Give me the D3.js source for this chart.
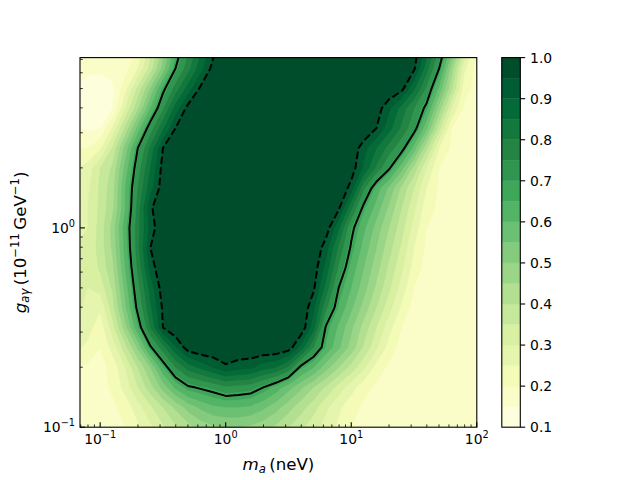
<!DOCTYPE html>
<html><head><meta charset="utf-8">
<script src="https://cdn.jsdelivr.net/npm/d3@7/dist/d3.min.js"></script>
<style>html,body{margin:0;padding:0;background:#fff}svg{display:block}text{font-family:"DejaVu Sans",sans-serif;fill:#000}</style>
</head><body>
<svg id="chart" width="640" height="480"></svg>
<script>
// grid columns: log10(m_a / neV)
const massLog = [-1.2,-1.1,-1.0,-0.9,-0.8,-0.7,-0.6,-0.5,-0.4,-0.3,-0.2,-0.1,0.0,0.1,0.2,0.3,0.4,0.5,0.6,0.7,0.8,0.9,1.0,1.1,1.2,1.3,1.4,1.5,1.6,1.7,1.8,1.9,2.0];
// grid rows (top to bottom): log10(g / 1e-11 GeV^-1)
const couplingLog = [0.9,0.8,0.7,0.6,0.5,0.4,0.3,0.2,0.1,0.0,-0.1,-0.2,-0.3,-0.4,-0.5,-0.6,-0.7,-0.8,-0.9,-1.0];
// exclusion probability
const exclusion = [
 [0.18,0.17,0.17,0.18,0.19,0.2,0.33,0.47,0.63,0.74,0.84,0.93,1,1,1,1,1,1,1,1,1,1,1,1,1,1,1,0.98,0.88,0.75,0.58,0.37,0.2],
 [0.17,0.16,0.16,0.17,0.18,0.25,0.37,0.52,0.68,0.78,0.88,0.97,1,1,1,1,1,1,1,1,1,1,1,1,1,1,1,0.96,0.82,0.68,0.47,0.26,0.18],
 [0.15,0.13,0.12,0.14,0.23,0.36,0.5,0.66,0.77,0.87,0.96,1,1,1,1,1,1,1,1,1,1,1,1,1,1,1,0.97,0.86,0.74,0.59,0.41,0.22,0.18],
 [0.14,0.12,0.12,0.15,0.3,0.44,0.6,0.74,0.87,0.97,1,1,1,1,1,1,1,1,1,1,1,1,1,1,0.98,0.91,0.83,0.75,0.66,0.48,0.3,0.19,0.18],
 [0.16,0.14,0.15,0.26,0.41,0.57,0.72,0.84,0.95,1,1,1,1,1,1,1,1,1,1,1,1,1,1,1,0.95,0.87,0.79,0.71,0.56,0.37,0.2,0.18,0.18],
 [0.2,0.2,0.24,0.36,0.52,0.68,0.81,0.95,1,1,1,1,1,1,1,1,1,1,1,1,1,1,0.99,0.92,0.85,0.78,0.71,0.58,0.41,0.25,0.19,0.18,0.18],
 [0.24,0.27,0.35,0.41,0.57,0.72,0.85,0.97,1,1,1,1,1,1,1,1,1,1,1,1,1,1,0.98,0.89,0.79,0.69,0.57,0.43,0.3,0.2,0.18,0.18,0.18],
 [0.26,0.29,0.36,0.43,0.6,0.75,0.88,0.98,1,1,1,1,1,1,1,1,1,1,1,1,1,1,0.93,0.76,0.63,0.54,0.44,0.35,0.25,0.19,0.18,0.18,0.18],
 [0.27,0.3,0.36,0.44,0.6,0.77,0.94,1,1,1,1,1,1,1,1,1,1,1,1,1,1,0.96,0.81,0.66,0.58,0.49,0.4,0.31,0.22,0.19,0.18,0.18,0.18],
 [0.28,0.3,0.37,0.47,0.63,0.78,0.92,1,1,1,1,1,1,1,1,1,1,1,1,1,0.98,0.86,0.7,0.61,0.53,0.45,0.37,0.28,0.2,0.18,0.18,0.18,0.18],
 [0.3,0.31,0.37,0.46,0.62,0.78,0.95,1,1,1,1,1,1,1,1,1,1,1,1,1,0.92,0.79,0.67,0.58,0.5,0.42,0.34,0.25,0.19,0.18,0.18,0.18,0.18],
 [0.3,0.3,0.36,0.44,0.6,0.76,0.92,1,1,1,1,1,1,1,1,1,1,1,1,0.98,0.88,0.74,0.63,0.55,0.47,0.39,0.31,0.23,0.18,0.18,0.18,0.18,0.18],
 [0.31,0.3,0.32,0.41,0.57,0.73,0.87,0.98,1,1,1,1,1,1,1,1,1,1,1,0.96,0.83,0.68,0.6,0.52,0.44,0.36,0.28,0.2,0.18,0.18,0.18,0.18,0.18],
 [0.31,0.29,0.26,0.38,0.54,0.7,0.84,0.96,1,1,1,1,1,1,1,1,1,1,1,0.91,0.76,0.64,0.56,0.48,0.4,0.32,0.24,0.18,0.18,0.18,0.18,0.18,0.18],
 [0.29,0.27,0.22,0.33,0.48,0.64,0.8,0.95,1,1,1,1,1,1,1,1,1,1,0.99,0.87,0.67,0.59,0.51,0.43,0.35,0.27,0.2,0.18,0.18,0.18,0.18,0.18,0.18],
 [0.26,0.24,0.2,0.27,0.38,0.51,0.67,0.78,0.89,0.98,1,1,1,1,1,1,1,0.98,0.88,0.75,0.64,0.56,0.48,0.39,0.31,0.23,0.18,0.18,0.18,0.18,0.18,0.18,0.18],
 [0.2,0.19,0.18,0.22,0.3,0.4,0.5,0.64,0.75,0.82,0.86,0.9,0.94,0.92,0.91,0.87,0.85,0.79,0.66,0.6,0.52,0.45,0.38,0.31,0.23,0.19,0.18,0.18,0.18,0.18,0.18,0.18,0.18],
 [0.19,0.18,0.18,0.21,0.27,0.35,0.43,0.52,0.61,0.67,0.69,0.71,0.74,0.73,0.72,0.68,0.63,0.57,0.51,0.45,0.39,0.33,0.27,0.22,0.19,0.18,0.18,0.18,0.18,0.18,0.18,0.18,0.18],
 [0.19,0.18,0.18,0.19,0.22,0.28,0.34,0.4,0.46,0.52,0.56,0.59,0.6,0.6,0.59,0.56,0.52,0.47,0.42,0.37,0.31,0.26,0.22,0.19,0.18,0.18,0.18,0.18,0.18,0.18,0.18,0.18,0.18],
 [0.19,0.18,0.18,0.18,0.2,0.24,0.29,0.34,0.39,0.43,0.47,0.49,0.5,0.5,0.49,0.47,0.44,0.4,0.36,0.32,0.28,0.24,0.2,0.19,0.18,0.18,0.18,0.18,0.18,0.18,0.18,0.18,0.18]
];
const levels = [0.1,0.15,0.2,0.25,0.3,0.35,0.4,0.45,0.5,0.55,0.6,0.65,0.7,0.75,0.8,0.85,0.9,0.95,1.0];
const solidLevel = [0.68];
const dashedLevel = [0.95];
const cbarTicks = [0.1,0.2,0.3,0.4,0.5,0.6,0.7,0.8,0.9,1.0];
const cbarLabels = ["0.1","0.2","0.3","0.4","0.5","0.6","0.7","0.8","0.9","1.0"];
const xMajor = [0.1,1,10,100];
const xMajorExp = ["\u22121","0","1","2"];
const xMinor = [0.07,0.08,0.09,0.2,0.3,0.4,0.5,0.6,0.7,0.8,0.9,2,3,4,5,6,7,8,9,20,30,40,50,60,70,80,90];
const yMajor = [0.1,1];
const yMajorExp = ["\u22121","0"];
const yMinor = [0.2,0.3,0.4,0.5,0.6,0.7,0.8,0.9,2,3,4,5,6,7];
const ylgn = ["#ffffe5","#f7fcb9","#d9f0a3","#addd8e","#78c679","#41ab5d","#238443","#006837","#004529"];

const svg = d3.select("#chart");
const ax = {l:80, r:476.8, t:57.6, b:427.2};
const x = d3.scaleLog().domain([0.0691,100]).range([ax.l, ax.r]);
const y = d3.scaleLog().domain([0.1,7.15]).range([ax.b, ax.t]);
const cmap = d3.scaleLinear().domain(ylgn.map((c,i)=>i/(ylgn.length-1))).range(ylgn).interpolate(d3.interpolateRgb);
const nBands = levels.length-1;
const bandColor = i => cmap((i+0.5)/nBands);

const nx = massLog.length, ny = couplingLog.length;
const values = exclusion.flat();
const dxl = massLog[1]-massLog[0], dyl = couplingLog[1]-couplingLog[0];
const proj = d3.geoTransform({point(gx, gy){
  this.stream.point(x(Math.pow(10, massLog[0]+(gx-0.5)*dxl)), y(Math.pow(10, couplingLog[0]+(gy-0.5)*dyl)));
}});
const path = d3.geoPath(proj);

svg.append("clipPath").attr("id","clip").append("rect")
  .attr("x",ax.l).attr("y",ax.t).attr("width",ax.r-ax.l).attr("height",ax.b-ax.t);
const plot = svg.append("g").attr("clip-path","url(#clip)");
plot.append("rect").attr("x",ax.l).attr("y",ax.t).attr("width",ax.r-ax.l).attr("height",ax.b-ax.t).attr("fill",bandColor(0));

const fills = d3.contours().size([nx,ny]).thresholds(levels.slice(0,-1))(values);
plot.selectAll("path.band").data(fills).join("path").attr("class","band")
  .attr("d", path).attr("fill",(d,i)=>bandColor(i)).attr("stroke",(d,i)=>bandColor(i)).attr("stroke-width",0.3);

const solid = d3.contours().size([nx,ny]).thresholds(solidLevel)(values);
plot.selectAll("path.solid").data(solid).join("path").attr("class","solid")
  .attr("d",path).attr("fill","none").attr("stroke","#000").attr("stroke-width",2).attr("stroke-linejoin","round");
const dashed = d3.contours().size([nx,ny]).thresholds(dashedLevel)(values);
plot.selectAll("path.dashed").data(dashed).join("path").attr("class","dashed")
  .attr("d",path).attr("fill","none").attr("stroke","#000").attr("stroke-width",2).attr("stroke-dasharray","7.4,3.2");

// frame
svg.append("rect").attr("x",ax.l).attr("y",ax.t).attr("width",ax.r-ax.l).attr("height",ax.b-ax.t)
  .attr("fill","none").attr("stroke","#000").attr("stroke-width",1.1);

function mathText(sel, parts, size){
  let cur = 0;
  parts.forEach(p=>{
    const off = p.sup ? -0.42*size : (p.sub ? 0.2*size : 0);
    const ts = sel.append("tspan").text(p.t).attr("dy", off-cur).attr("font-size", (p.sup||p.sub)? 0.7*size : size);
    if (p.it) ts.attr("font-style","italic");
    cur = off;
  });
}

const fs = 13.9;
// x ticks (inward)
const gx = svg.append("g");
xMinor.forEach(v=>{ const px=x(v); gx.append("line").attr("x1",px).attr("x2",px).attr("y1",ax.b).attr("y2",ax.b-2.8).attr("stroke","#000").attr("stroke-width",0.8); });
xMajor.forEach((v,i)=>{
  const px=x(v);
  gx.append("line").attr("x1",px).attr("x2",px).attr("y1",ax.b).attr("y2",ax.b-4.9).attr("stroke","#000").attr("stroke-width",1.1);
  const t = gx.append("text").attr("x",px).attr("y",444).attr("text-anchor","middle").attr("font-size",fs);
  mathText(t,[{t:"10"},{t:xMajorExp[i],sup:true}],fs);
});
// y ticks (inward)
const gy = svg.append("g");
yMinor.forEach(v=>{ const py=y(v); gy.append("line").attr("x1",ax.l).attr("x2",ax.l+2.8).attr("y1",py).attr("y2",py).attr("stroke","#000").attr("stroke-width",0.8); });
yMajor.forEach((v,i)=>{
  const py=y(v);
  gy.append("line").attr("x1",ax.l).attr("x2",ax.l+4.9).attr("y1",py).attr("y2",py).attr("stroke","#000").attr("stroke-width",1.1);
  const t = gy.append("text").attr("x",75).attr("y",py+5).attr("text-anchor","end").attr("font-size",fs);
  mathText(t,[{t:"10"},{t:yMajorExp[i],sup:true}],fs);
});

// axis labels
const ls = 16.67;
const xl = svg.append("text").attr("x",(ax.l+ax.r)/2).attr("y",470).attr("text-anchor","middle").attr("font-size",ls);
mathText(xl,[{t:"m",it:true},{t:"a",it:true,sub:true},{t:"\u2009(neV)"}],ls);
const yl = svg.append("text").attr("transform",`translate(26,${(ax.t+ax.b)/2}) rotate(-90)`).attr("text-anchor","middle").attr("font-size",ls);
mathText(yl,[{t:"g",it:true},{t:"a\u03b3",it:true,sub:true},{t:"\u2009(10"},{t:"\u221211",sup:true},{t:"\u2009GeV"},{t:"\u22121",sup:true},{t:")"}],ls);

// colorbar
const cb = {l:501.8, r:520.3};
const cy = d3.scaleLinear().domain([levels[0], levels[levels.length-1]]).range([ax.b, ax.t]);
const gc = svg.append("g");
for (let i=0;i<nBands;i++){
  gc.append("rect").attr("x",cb.l).attr("width",cb.r-cb.l).attr("y",cy(levels[i+1])).attr("height",cy(levels[i])-cy(levels[i+1]))
    .attr("fill",bandColor(i)).attr("stroke",bandColor(i)).attr("stroke-width",0.3);
}
gc.append("rect").attr("x",cb.l).attr("y",ax.t).attr("width",cb.r-cb.l).attr("height",ax.b-ax.t).attr("fill","none").attr("stroke","#000").attr("stroke-width",1.1);
cbarTicks.forEach((v,i)=>{
  const py = cy(v);
  gc.append("line").attr("x1",cb.r).attr("x2",cb.r+4.9).attr("y1",py).attr("y2",py).attr("stroke","#000").attr("stroke-width",1.1);
  gc.append("text").attr("x",cb.r+9.8).attr("y",py+5).attr("font-size",fs).text(cbarLabels[i]);
});
</script>
</body></html>
